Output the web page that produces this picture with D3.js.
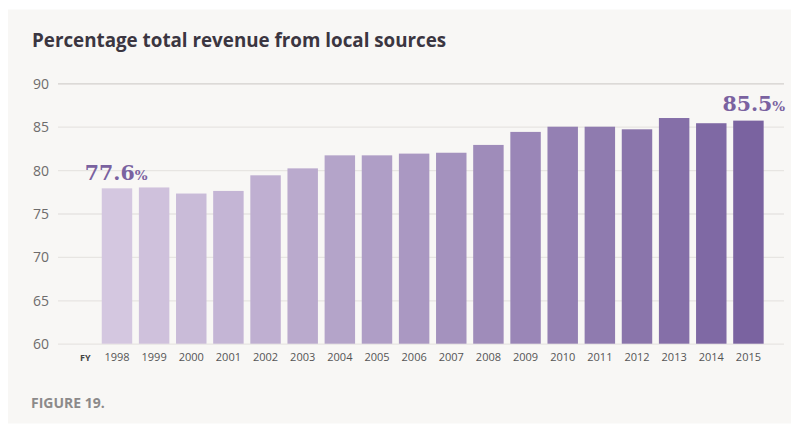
<!DOCTYPE html>
<html>
<head>
    <meta charset="utf-8">
    <title>Percentage total revenue from local sources</title>
    <script src="https://cdn.jsdelivr.net/npm/d3@7/dist/d3.min.js"></script>
    <style>
        body { margin: 0; background: #fff; }
        .title { font-family: "Open Sans", sans-serif; font-weight: 700; font-size: 18.8px; fill: #3b3641; }
        .figure { font-family: "Open Sans", sans-serif; font-weight: 700; font-size: 14px; fill: #8c8a8a; }
        .yaxis text { font-family: "Open Sans", sans-serif; font-size: 14px; fill: #6e6c6c; }
        .yaxis line { stroke: #e7e5e2; stroke-width: 1.3; }
        .xaxis text { font-family: "Open Sans", sans-serif; font-size: 11px; fill: #555; }
        .fy { font-family: "Open Sans", sans-serif; font-weight: 700; font-size: 9px; fill: #444; }
        .callout { font-family: "DejaVu Serif", serif; font-weight: 700; fill: #7a62a0; }
    </style>
</head>
<body>
<div id="vis"></div>
<script>

    // data
    var years = ["1998","1999","2000","2001","2002","2003","2004","2005","2006",
                 "2007","2008","2009","2010","2011","2012","2013","2014","2015"];
    var localShare = [77.9, 78.0, 77.3, 77.6, 79.4, 80.2, 81.7, 81.7, 81.9,
                      82.0, 82.9, 84.4, 85.0, 85.0, 84.7, 86.0, 85.4, 85.7];
    var yTicks = [60, 65, 70, 75, 80, 85, 90];
    var callouts = [{year: "1998", label: "77.6"}, {year: "2015", label: "85.5"}];

    var width = 793, height = 428;

    var svg = d3.select("#vis").append("svg")
            .attr("width", width)
            .attr("height", height);

    // panel
    svg.append("rect")
            .attr("x", 8).attr("y", 9.5)
            .attr("width", 783).attr("height", 414)
            .attr("fill", "#f8f7f5");

    svg.append("text").attr("class", "title")
            .attr("x", 32).attr("y", 47)
            .text("Percentage total revenue from local sources");

    var x = d3.scaleBand()
            .domain(years)
            .range([98.4, 767])
            .paddingInner(0.18)
            .paddingOuter(0.09);

    var y = d3.scaleLinear()
            .domain([60, 90])
            .range([343.7, 83.3]);

    var gridLeft = 58, gridRight = 784;

    // y axis with grid lines
    var yAxis = svg.append("g").attr("class", "yaxis")
            .attr("transform", "translate(" + gridLeft + ",0)")
            .call(d3.axisLeft(y).tickValues(yTicks).tickSize(-(gridRight - gridLeft)).tickPadding(9));
    yAxis.select(".domain").remove();
    yAxis.selectAll(".tick text").attr("dy", "0.36em");
    yAxis.selectAll(".tick").filter(function(d){ return d === 90; })
            .select("line").style("stroke", "#d3d0cd");

    // bars
    var shade = d3.interpolateRgb("#d4c7e0", "#7a63a0");
    svg.append("g").selectAll("rect")
            .data(localShare)
            .enter().append("rect")
            .attr("x", function(d, i){ return x(years[i]); })
            .attr("y", function(d){ return y(d); })
            .attr("width", x.bandwidth())
            .attr("height", function(d){ return y(60) - y(d); })
            .attr("fill", function(d, i){ return shade(i / (years.length - 1)); });

    // x axis
    var xAxis = svg.append("g").attr("class", "xaxis")
            .attr("transform", "translate(0," + y(60) + ")")
            .call(d3.axisBottom(x).tickSize(0).tickPadding(9.5));
    xAxis.select(".domain").remove();

    svg.append("text").attr("class", "fy")
            .attr("x", x(years[0]) - 16.5).attr("y", 361)
            .attr("text-anchor", "middle")
            .text("FY");

    // value callouts
    callouts.forEach(function(c, k){
        var first = k === 0;
        var t = svg.append("text").attr("class", "callout")
                .attr("x", first ? x(c.year) - 17 : x(c.year) + x.bandwidth() + 21.5)
                .attr("y", first ? 180 : 110.5)
                .attr("text-anchor", first ? "start" : "end");
        t.append("tspan").style("font-size", "20.5px").text(c.label);
        t.append("tspan").style("font-size", "13.5px").text("%");
    });

    svg.append("text").attr("class", "figure")
            .attr("x", 31).attr("y", 407.5)
            .text("FIGURE 19.");

</script>
</body>
</html>
